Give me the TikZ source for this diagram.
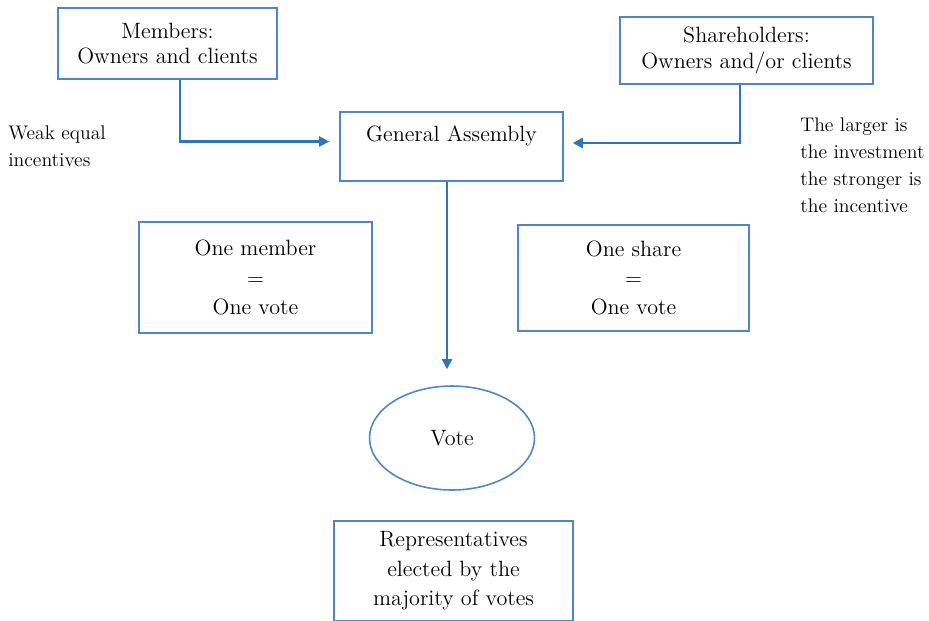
\documentclass[tikz,border=0pt]{standalone}
\usepackage{fontspec}
\usepackage{tikz}
\usetikzlibrary{positioning,arrows.meta,shapes.geometric}

\definecolor{boxblue}{RGB}{79,134,198}
\definecolor{arrblue}{RGB}{46,117,182}

\begin{document}
\begin{tikzpicture}[
    x=0.02cm, y=-0.02cm,
    font=\fontsize{12.6}{14.5}\selectfont,
    mbox/.style={draw=boxblue, line width=0.9pt, align=center, inner sep=0pt},
    note/.style={anchor=west, align=left, inner sep=0pt,
                 font=\fontsize{11.2}{15.4}\selectfont},
    conn/.style={-{Triangle[length=0.2cm,width=0.2cm]}, line width=1.2pt, arrblue}
  ]
    \useasboundingbox (0,0) rectangle (929,620);
    \node[mbox, minimum width=4.38cm, minimum height=1.42cm] (MEM) at (167.5,43.5)
      {Members:\\Owners and clients};
    \node[mbox, minimum width=5.06cm, minimum height=1.34cm] (SH) at (746.5,50.5)
      {Shareholders:\\Owners and/or clients};
    \node[mbox, minimum width=4.46cm, minimum height=1.38cm] (GA) at (451.5,146.5)
      {General Assembly\\\mbox{}};
    \node[mbox, minimum width=4.66cm, minimum height=2.22cm] (EQ1) at (255.5,277.5)
      {One member\\[2.2pt]=\\[2.2pt]One vote};
    \node[mbox, minimum width=4.62cm, minimum height=2.12cm] (EQ2) at (633.5,278)
      {One share\\[2.2pt]=\\[2.2pt]One vote};
    \node[mbox, ellipse, minimum width=3.3cm, minimum height=2.08cm] (VOTE) at (452,438)
      {Vote};
    \node[mbox, minimum width=4.78cm, minimum height=2.0cm] (REP) at (453.5,571)
      {Representatives\\[2.2pt]elected by the\\[2.2pt]majority of votes};
    \node[note] (WEAK) at (8,146) {Weak equal\\incentives};
    \node[note] (LARGE) at (800,165)
      {The larger is\\the investment\\the stronger is\\the incentive};
    \draw[conn, shorten >=0.2cm] (MEM.south -| 180,0) |- ([yshift=0.1cm]GA.west);
    \draw[conn, shorten >=0.18cm] (SH.south -| 740,0) |- ([yshift=0.07cm]GA.east);
    \draw[conn, shorten >=0.32cm] (GA.south -| 447,0) -- (VOTE.north -| 447,0);
  \end{tikzpicture}
\end{document}
